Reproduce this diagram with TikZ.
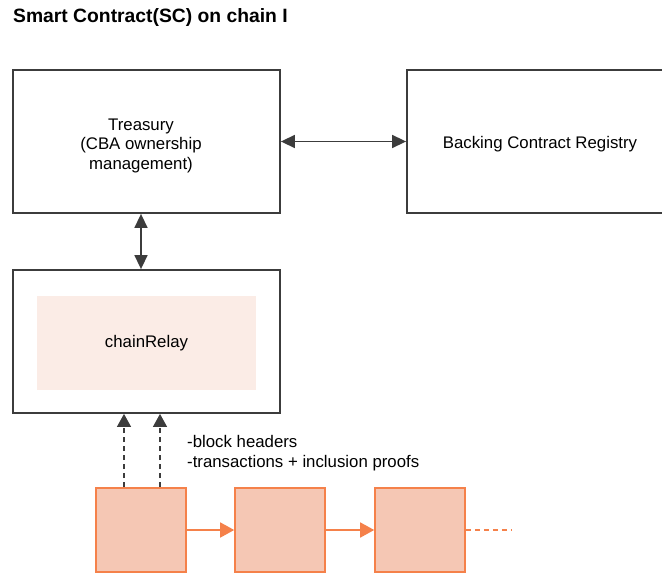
\documentclass[tikz,border=0pt]{standalone}
\usepackage{fontspec}
\setmainfont{Liberation Sans}
\usetikzlibrary{arrows.meta}
\definecolor{boxline}{HTML}{3C3C3C}
\definecolor{relayfill}{HTML}{FBECE6}
\definecolor{blockline}{HTML}{F5814A}
\definecolor{blockfill}{HTML}{F5C7B4}
\tikzset{
  bodytext/.style={font=\fontsize{16.8bp}{19.5bp}\selectfont, text=black},
  contract/.style={draw=boxline, line width=1.8bp, rectangle, inner sep=0pt,
    align=center, bodytext},
  relayinner/.style={fill=relayfill, draw=none, rectangle, inner sep=0pt, bodytext},
  chainblock/.style={draw=blockline, fill=blockfill, line width=1.6bp, rectangle,
    inner sep=0pt, minimum width=90bp, minimum height=84bp},
  biarrow/.style={boxline, line width=1.5bp,
    {Triangle[length=14bp,width=13bp]}-{Triangle[length=14bp,width=13bp]}},
  feedarrow/.style={boxline, line width=1.1bp, dash pattern=on 5bp off 4bp,
    -{Triangle[length=13bp,width=14bp]}},
  linkarrow/.style={blockline, line width=1.6bp, -{Triangle[length=14bp,width=15bp]}},
  linktail/.style={blockline, line width=1.6bp, dash pattern=on 5bp off 4bp}
}
\begin{document}
\begin{tikzpicture}[x=1bp, y=-1bp]
  \useasboundingbox (0,0) rectangle (662,576);

  % title
  \node[anchor=base west, inner sep=0pt,
        font=\fontsize{19.3bp}{22bp}\selectfont\bfseries] (title) at (13,23)
        {Smart Contract(SC) on chain I};

  % contract boxes (the registry runs past the right edge of the page)
  \node[contract, minimum width=267bp, minimum height=143bp] (treasury) at (146.5,141.5) {};
  \node[bodytext, align=center, inner sep=0pt] (treasurytext) at (141,145.5)
        {Treasury\\(CBA ownership\\management)};
  \node[contract, minimum width=267bp, minimum height=143bp] (registry) at (540.5,141.5) {};
  \node[bodytext, inner sep=0pt] (registrytext) at (540,144) {Backing Contract Registry};
  \node[contract, minimum width=267bp, minimum height=143bp] (relay) at (146.5,341.5) {};
  \node[relayinner, minimum width=219bp, minimum height=94bp] (relaycore) at (146.5,343)
        {chainRelay};

  % chain of blocks
  \node[chainblock] (blk1) at (141,530) {};
  \node[chainblock] (blk2) at (280,530) {};
  \node[chainblock] (blk3) at (420,530) {};
  \coordinate (tail) at (512,530);

  % labels for the relayed data
  \node[bodytext, anchor=base west, inner sep=0pt] (hdrA) at (187,447) {-block headers};
  \node[bodytext, anchor=base west, inner sep=0pt] (hdrB) at (187,467)
        {-transactions + inclusion proofs};

  % connectors
  \draw[biarrow] (treasury.east) -- (registry.west);
  \draw[biarrow] (treasury.south -| blk1.north) -- (relay.north -| blk1.north);
  \draw[feedarrow] ([xshift=-17bp]blk1.north) -- ([xshift=-17bp]blk1.north |- relay.south);
  \draw[feedarrow] ([xshift=19bp]blk1.north) -- ([xshift=19bp]blk1.north |- relay.south);
  \draw[linkarrow] (blk1.east) -- (blk2.west);
  \draw[linkarrow] (blk2.east) -- (blk3.west);
  \draw[linktail] (blk3.east) -- (tail);
\end{tikzpicture}
\end{document}
